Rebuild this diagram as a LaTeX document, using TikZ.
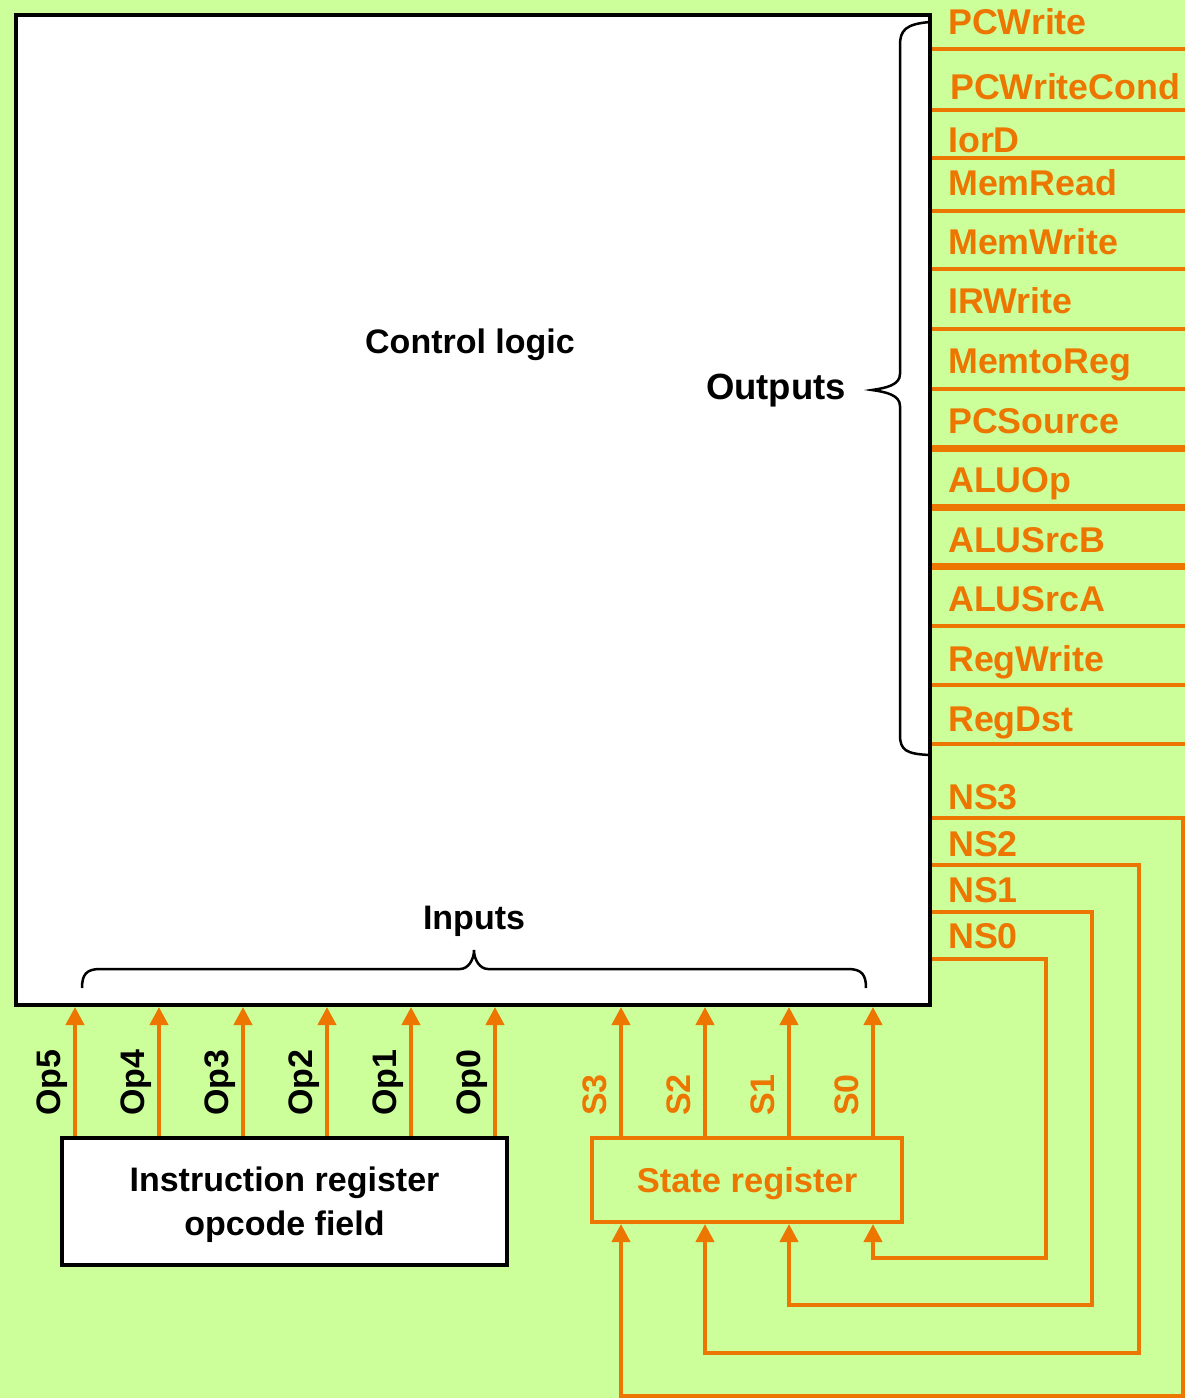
\documentclass[tikz,border=0pt]{standalone}
\usepackage{fontspec}
\setmainfont{Liberation Sans}
\usetikzlibrary{arrows.meta}
\definecolor{bg}{RGB}{204,255,153}
\definecolor{org}{RGB}{236,118,0}
\begin{document}
\begin{tikzpicture}[x=1pt,y=-1pt,
  lbl/.style={font=\fontsize{34}{44}\selectfont\bfseries, inner sep=0pt},
  olbl/.style={font=\fontsize{35.8}{40}\selectfont\bfseries, inner sep=0pt, text=org, anchor=base west},
  vlbl/.style={lbl, rotate=90, anchor=base west},
  sig/.style={draw=org, line width=4pt},
  bus/.style={draw=org, line width=7pt},
  arr/.style={sig, -{Triangle[length=18pt,width=18pt]}},
  brc/.style={draw=black, line width=2.5pt},
  blockbox/.style={draw=black, fill=white, line width=4pt, inner sep=0pt, anchor=north west},
]
\fill[bg] (0,0) rectangle (1185,1398);
\useasboundingbox (0,0) rectangle (1185,1398);

% main control logic box
\node[blockbox, minimum width=914pt, minimum height=990pt] (main) at (14,13) {};
\node[lbl, anchor=base] (cl) at (470,353) {Control logic};
\node[lbl, anchor=base, font=\fontsize{36.5}{44}\selectfont\bfseries] (outs) at (776,399) {Outputs};
\node[lbl, anchor=base] (ins) at (474,929) {Inputs};

% braces
\draw[brc] (930,22) .. controls (906,24) and (900,30) .. (900,45) -- (900,374)
  .. controls (900,385) and (886,388) .. (872,390)
  .. controls (886,392) and (900,395) .. (900,406) -- (900,735)
  .. controls (900,750) and (906,754) .. (930,755);
\draw[brc] (82,988) .. controls (82,975) and (86,969) .. (100,969) -- (460,969)
  .. controls (468,969) and (474,960) .. (474,950)
  .. controls (474,960) and (480,969) .. (488,969) -- (848,969)
  .. controls (862,969) and (866,975) .. (866,988);

% output signals
\foreach \y/\w in {49/sig,110/sig,158/sig,211/sig,269/sig,329/sig,389/sig,448/bus,507/bus,566/bus,626/sig,685/sig,744/sig}{
  \coordinate (oe\y) at (1185,\y);
  \draw[\w] (main.east |- oe\y) -- (oe\y);
}
\node[olbl] (pcw) at (948,34) {PCWrite};
\node[olbl] (pcwc) at (950,99) {PCWriteCond};
\node[olbl] (iord) at (948,152) {IorD};
\node[olbl] (mr) at (948,195) {MemRead};
\node[olbl] (mw) at (948,254) {MemWrite};
\node[olbl] (irw) at (948,313) {IRWrite};
\node[olbl] (m2r) at (948,373) {MemtoReg};
\node[olbl] (pcs) at (948,433) {PCSource};
\node[olbl] (aluop) at (948,492) {ALUOp};
\node[olbl] (asb) at (948,552) {ALUSrcB};
\node[olbl] (asa) at (948,611) {ALUSrcA};
\node[olbl] (rw) at (948,671) {RegWrite};
\node[olbl] (rd) at (948,731) {RegDst};
\node[olbl] (ns3) at (948,809) {NS3};
\node[olbl] (ns2) at (948,856) {NS2};
\node[olbl] (ns1) at (948,902) {NS1};
\node[olbl] (ns0) at (948,948) {NS0};

% instruction register
\node[blockbox, minimum width=445pt, minimum height=127pt, align=center, text depth=0pt,
  font=\fontsize{34}{44}\selectfont\bfseries] (ir) at (60,1136) {Instruction register\\opcode field};
\foreach \i/\x in {5/75,4/159,3/243,2/327,1/411,0/495}{
  \coordinate (op\i) at (\x,0);
  \draw[arr] (ir.north -| op\i) -- (main.south -| op\i);
  \pgfmathsetmacro{\lx}{\x-15}
  \node[vlbl] (lop\i) at (\lx,1116) {Op\i};
}

% state register
\node[draw=org, line width=4pt, inner sep=0pt, anchor=north west, minimum width=310pt, minimum height=84pt,
  text=org, text depth=0pt, font=\fontsize{34.5}{40}\selectfont\bfseries] (sr) at (590,1136) {State register};
\foreach \i/\x in {3/621,2/705,1/789,0/873}{
  \coordinate (s\i) at (\x,0);
  \draw[arr] (sr.north -| s\i) -- (main.south -| s\i);
  \pgfmathsetmacro{\lx}{\x-15}
  \node[vlbl, text=org] (ls\i) at (\lx,1116) {S\i};
}

% next-state feedback
\foreach \i/\y/\vx/\by in {3/818/1183/1396,2/865/1139/1353,1/912/1092/1305,0/959/1046/1258}{
  \coordinate (nsa\i) at (\vx,\y);
  \coordinate (nsb\i) at (\vx,\by);
  \draw[arr] (main.east |- nsa\i) -- (nsa\i) -- (nsb\i) -- (nsb\i -| s\i) -- (sr.south -| s\i);
}
\end{tikzpicture}
\end{document}
